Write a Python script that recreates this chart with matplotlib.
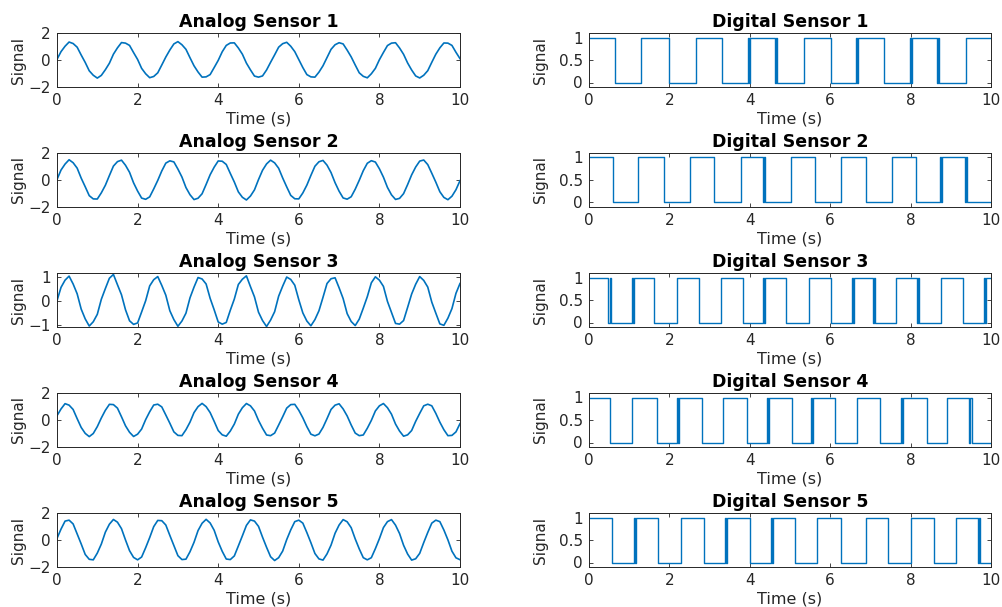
import numpy as np
import matplotlib
matplotlib.use("Agg")
from matplotlib import pyplot as plt

plt.rcParams['font.family'] = ['DejaVu Sans']

# sample times of the analog traces (s)
time = np.linspace(0, 10, 101)

# analog sensor readings, every 0.1 s
analog_1 = [
    0.05, 0.62, 1.02, 1.33, 1.22, 0.95, 0.37, -0.18, -0.80, -1.13,
    -1.34, -1.14, -0.72, -0.24, 0.43, 0.90, 1.29, 1.25, 1.08, 0.55,
    0.04, -0.62, -1.02, -1.31, -1.22, -0.95, -0.37, 0.22, 0.74, 1.19,
    1.36, 1.13, 0.79, 0.17, -0.43, -0.89, -1.27, -1.25, -1.08, -0.56,
    -0.03, 0.61, 1.08, 1.26, 1.27, 0.89, 0.43, -0.23, -0.73, -1.19,
    -1.27, -1.18, -0.74, -0.17, 0.38, 0.95, 1.21, 1.31, 1.02, 0.62,
    0.03, -0.56, -1.08, -1.25, -1.27, -0.90, -0.43, 0.18, 0.79, 1.13,
    1.28, 1.19, 0.73, 0.23, -0.37, -0.95, -1.21, -1.32, -1.02, -0.62,
    0.02, 0.56, 1.07, 1.25, 1.28, 0.89, 0.42, -0.22, -0.74, -1.18,
    -1.33, -1.13, -0.79, -0.17, 0.43, 0.90, 1.26, 1.25, 1.08, 0.57,
    0.10,
]
analog_2 = [
    0.04, 0.74, 1.18, 1.50, 1.28, 0.88, 0.14, -0.50, -1.16, -1.40,
    -1.41, -0.95, -0.39, 0.33, 1.03, 1.36, 1.47, 1.09, 0.57, -0.21,
    -0.82, -1.34, -1.43, -1.25, -0.66, -0.03, 0.67, 1.25, 1.42, 1.34,
    0.81, 0.22, -0.56, -1.09, -1.45, -1.35, -1.02, -0.33, 0.39, 0.95,
    1.41, 1.39, 1.15, 0.49, -0.15, -0.88, -1.28, -1.48, -1.19, -0.73,
    0.03, 0.72, 1.19, 1.47, 1.27, 0.87, 0.15, -0.51, -1.14, -1.39,
    -1.40, -0.96, -0.38, 0.34, 1.02, 1.35, 1.45, 1.10, 0.55, -0.20,
    -0.83, -1.33, -1.42, -1.24, -0.68, -0.02, 0.69, 1.24, 1.43, 1.33,
    0.83, 0.21, -0.55, -1.10, -1.44, -1.36, -1.01, -0.34, 0.38, 0.96,
    1.40, 1.48, 1.14, 0.50, -0.16, -0.87, -1.29, -1.46, -1.20, -0.72,
    -0.05,
]
analog_3 = [
    0.02, 0.58, 0.88, 1.05, 0.72, 0.31, -0.33, -0.74, -1.04, -0.86,
    -0.55, 0.08, 0.53, 0.96, 1.12, 0.69, 0.27, -0.36, -0.82, -0.97,
    -0.91, -0.45, 0.02, 0.64, 0.90, 1.03, 0.66, 0.25, -0.40, -0.77,
    -1.05, -0.83, -0.50, 0.14, 0.59, 0.99, 0.93, 0.72, 0.12, -0.36,
    -0.87, -0.96, -0.89, -0.38, 0.09, 0.70, 0.92, 1.06, 0.61, 0.18,
    -0.46, -0.81, -1.06, -0.79, -0.44, 0.21, 0.63, 1.01, 0.91, 0.67,
    0.06, -0.49, -0.83, -1.03, -0.77, -0.40, 0.16, 0.74, 0.94, 0.98,
    0.56, 0.11, -0.52, -0.85, -1.02, -0.75, -0.29, 0.19, 0.77, 1.02,
    0.88, 0.62, -0.01, -0.47, -0.93, -0.96, -0.81, -0.26, 0.30, 0.71,
    1.03, 0.87, 0.59, -0.04, -0.50, -0.95, -1.01, -0.71, -0.31, 0.33,
    0.74,
]
analog_4 = [
    0.32, 0.82, 1.21, 1.10, 0.78, 0.10, -0.55, -0.99, -1.23, -1.00,
    -0.49, 0.15, 0.72, 1.16, 1.14, 0.88, 0.24, -0.43, -0.91, -1.22,
    -1.05, -0.67, 0.03, 0.61, 1.11, 1.17, 0.97, 0.37, -0.24, -0.88,
    -1.14, -1.16, -0.72, -0.16, 0.55, 0.99, 1.23, 0.99, 0.55, -0.10,
    -0.78, -1.10, -1.20, -0.82, -0.30, 0.43, 0.91, 1.22, 1.05, 0.67,
    -0.03, -0.61, -1.11, -1.16, -0.97, -0.37,
    0.24, 0.88, 1.14, 1.16, 0.72, 0.16, -0.49, -1.05, -1.17, -1.04,
    -0.55, 0.10, 0.78, 1.10, 1.20, 0.82, 0.30, -0.37, -0.97, -1.16,
    -1.11, -0.61, -0.03, 0.67, 1.05, 1.22, 0.91, 0.43, -0.30, -0.82,
    -1.20, -1.10, -0.78, -0.10, 0.49, 1.05, 1.17, 1.05, 0.49, -0.16,
    -0.72, -1.16, -1.14, -0.88, -0.27,
]
analog_5 = [
    0.12, 0.81, 1.40, 1.47, 1.19, 0.45, -0.29, -1.07, -1.43, -1.47,
    -0.97, -0.30, 0.58, 1.17, 1.52, 1.32, 0.84, 0.00, -0.79, -1.29,
    -1.47, -1.26, -0.57, 0.18, 0.99, 1.45, 1.43, 1.11, 0.34, -0.41,
    -1.16, -1.45, -1.42, -0.87, -0.17, 0.70, 1.24, 1.53, 1.26, 0.72,
    -0.14, -0.84, -1.41, -1.45, -1.18, -0.44, 0.31, 1.08, 1.49, 1.40,
    1.01, 0.21, -0.54, -1.24, -1.52, -1.31, -0.82, 0.03, 0.75, 1.36,
    1.47, 1.25, 0.55, -0.20, -1.00, -1.40, -1.49, -1.03, -0.38, 0.50,
    1.11, 1.51, 1.35, 0.91, 0.08, -0.66, -1.31, -1.47, -1.31, -0.64,
    0.10, 0.92, 1.36, 1.51, 1.10, 0.48, -0.39, -1.04, -1.49, -1.39,
    -0.99, -0.19, 0.56, 1.25, 1.47, 1.36, 0.74, 0.01, -0.83, -1.32,
    -1.46,
]
analog_series = [analog_1, analog_2, analog_3, analog_4, analog_5]
analog_ylims = [(-2, 2), (-2, 2), (-1.08, 1.18), (-2, 2), (-2, 2)]
analog_yticks = [[-2, 0, 2], [-2, 0, 2], [-1, 0, 1], [-2, 0, 2], [-2, 0, 2]]

# digital sensors: every switch time (s), all start high
digital_1 = [0.64, 1.30, 1.98, 2.66, 3.32, 3.955, 3.98, 4.005, 4.635, 4.66,
             4.685, 5.34, 6.02, 6.645, 6.67, 6.695, 7.34, 7.995, 8.02, 8.045,
             8.665, 8.69, 8.715, 9.38]
digital_2 = [0.60, 1.22, 1.87, 2.51, 3.11, 3.77, 4.335, 4.36, 4.385, 5.02,
             5.62, 6.26, 6.88, 7.53, 8.13, 8.725, 8.75, 8.775, 9.355, 9.38,
             9.405]
digital_3 = [0.485, 0.51, 0.535, 1.075, 1.10, 1.125, 1.61, 2.18, 2.73, 3.28,
             3.82, 4.335, 4.36, 4.385, 4.90, 5.47, 6.01, 6.535, 6.56, 6.585,
             7.065, 7.09, 7.115, 7.63, 8.165, 8.19, 8.215, 8.75, 9.31, 9.825,
             9.85, 9.875]
digital_4 = [0.53, 1.08, 1.68, 2.195, 2.22, 2.245, 2.80, 3.34, 3.93, 4.435,
             4.46, 4.485, 5.04, 5.525, 5.55, 5.575, 6.12, 6.67, 7.25, 7.765,
             7.79, 7.815, 8.40, 8.91, 9.465, 9.49, 9.515]
digital_5 = [0.56, 1.115, 1.14, 1.165, 1.72, 2.28, 2.86, 3.375, 3.40, 3.425,
             4.00, 4.515, 4.54, 4.565, 5.12, 5.68, 6.26, 6.88, 7.44, 8.00,
             8.59, 9.13, 9.685, 9.71, 9.735]
digital_series = [digital_1, digital_2, digital_3, digital_4, digital_5]

line_color = '#0072BD'
axis_color = '#262626'


def square_wave(switches, start=1, t_end=10.0):
    t, v, level = [0.0], [start], start
    for s in switches:
        t += [s, s]
        v += [level, 1 - level]
        level = 1 - level
    t.append(t_end)
    v.append(level)
    return t, v


def style_axes(ax, title, label_x):
    ax.set_xlim(0, 10)
    ax.set_xticks([0, 2, 4, 6, 8, 10])
    ax.set_title(title, fontsize=12.5, fontweight='bold', pad=4)
    ax.set_xlabel('Time (s)', fontsize=11.5, color=axis_color, labelpad=2.5)
    ax.set_ylabel('Signal', fontsize=11, color=axis_color)
    ax.yaxis.set_label_coords(label_x, 0.5)
    ax.tick_params(direction='in', length=3, width=0.6, top=True, right=True,
                   labelsize=11, colors=axis_color, pad=4.5)
    for sp in ax.spines.values():
        sp.set_color(axis_color)
        sp.set_linewidth(0.7)


fig = plt.figure(figsize=(10.03, 6.07), dpi=100)
W, H = 1003, 607
row_tops = [33, 153, 273, 393, 513]
ax_h = 54

for i in range(5):
    bottom = 1 - (row_tops[i] + ax_h) / H

    ax = fig.add_axes([57 / W, bottom, 403 / W, ax_h / H])
    ax.plot(time, analog_series[i], color=line_color, lw=1.2)
    ax.set_ylim(*analog_ylims[i])
    ax.set_yticks(analog_yticks[i])
    style_axes(ax, f'Analog Sensor {i + 1}', -0.077)

    ax = fig.add_axes([589 / W, bottom, 402 / W, ax_h / H])
    t, v = square_wave(digital_series[i])
    ax.plot(t, v, color=line_color, lw=1.0)
    ax.set_ylim(-0.1, 1.1)
    ax.set_yticks([0, 0.5, 1])
    ax.set_yticklabels(['0', '0.5', '1'])
    style_axes(ax, f'Digital Sensor {i + 1}', -0.102)

fig.savefig('out.png', dpi=100)
